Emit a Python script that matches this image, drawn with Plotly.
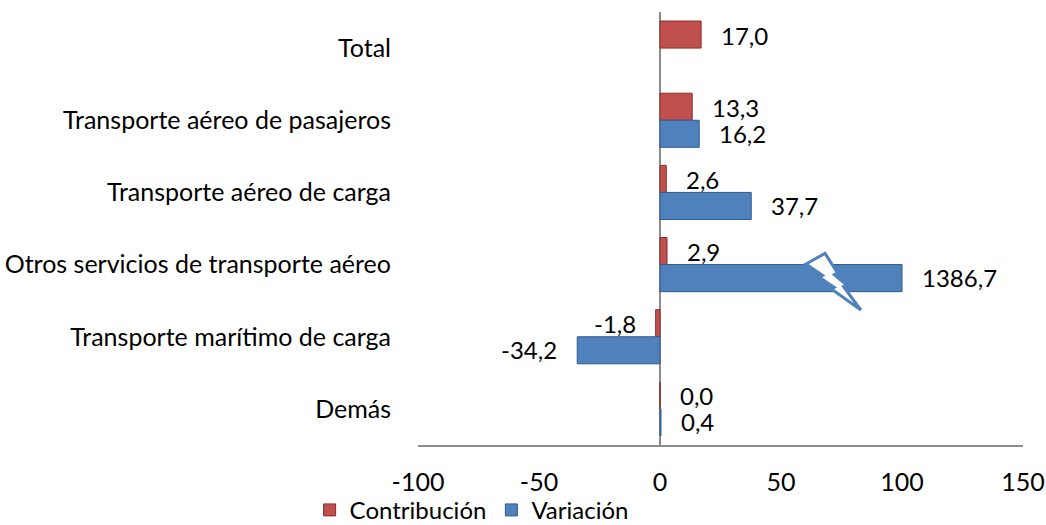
import plotly.graph_objects as go

categorias = ["Total", "Transporte aéreo de pasajeros", "Transporte aéreo de carga",
              "Otros servicios de transporte aéreo", "Transporte marítimo de carga", "Demás"]
contribucion = [17.0, 13.3, 2.6, 2.9, -1.8, 0.0]
variacion = [None, 16.2, 37.7, 1386.7, -34.2, 0.4]
x_ticks = [-100, -50, 0, 50, 100, 150]
x_max_visible = 100  # axis break: bars longer than this are cut at this value

RED = "#C0504D"
RED_DARK = "#8C2E2B"
BLUE = "#4F81BD"
BLUE_DARK = "#2E5A8E"
FONT = "Lato"
FS = 25

def fmt(v):
    return f"{v:.1f}".replace(".", ",")

var_display = [None if v is None else min(v, x_max_visible) for v in variacion]

fig = go.Figure()
fig.add_trace(go.Bar(name="Contribución", y=categorias, x=contribucion, orientation="h",
                     marker=dict(color=RED, line=dict(color=RED_DARK, width=1))))
fig.add_trace(go.Bar(name="Variación", y=categorias, x=var_display, orientation="h",
                     marker=dict(color=BLUE, line=dict(color=BLUE_DARK, width=1))))

annotations = []
for series, vals, shift in [(contribucion, contribucion, 13), (variacion, var_display, -13)]:
    for cat, real, disp in zip(categorias, series, vals):
        if real is None:
            continue
        neg = disp < 0
        annotations.append(dict(x=disp, y=cat, xref="x", yref="y", text=fmt(real),
                                showarrow=False, xanchor="right" if neg else "left",
                                xshift=-18 if neg else 18, yshift=shift,
                                font=dict(family=FONT, size=24, color="black")))

# lightning bolt marking the axis break on the long bar
bolt = [(68.2, 2.844), (60.3, 2.992), (67.2, 3.149), (65.8, 3.176), (72.0, 3.315),
        (70.8, 3.338), (83.0, 3.629), (75.8, 3.306), (76.9, 3.279), (72.0, 3.140),
        (73.3, 3.112)]
path = "M " + " L ".join(f"{x},{y}" for x, y in bolt) + " Z"

fig.update_layout(
    width=1046, height=525,
    margin=dict(l=418, r=23, t=12, b=80, autoexpand=False),
    paper_bgcolor="white", plot_bgcolor="white",
    barmode="group", bargap=0.25, bargroupgap=0,
    font=dict(family=FONT, size=FS, color="black"),
    annotations=annotations,
    shapes=[dict(type="path", path=path, xref="x", yref="y", fillcolor="white",
                 line=dict(color=BLUE, width=3), layer="above")],
    legend=dict(orientation="h", xref="container", yref="container",
                x=0.296, y=0.028, xanchor="left", yanchor="middle",
                font=dict(family=FONT, size=24), itemwidth=30, tracegroupgap=0,
                bgcolor="rgba(0,0,0,0)"),
    xaxis=dict(range=[-100, 150], tickvals=x_ticks, ticktext=[str(t) for t in x_ticks],
               showgrid=False, zeroline=True, zerolinecolor="#8C8C8C", zerolinewidth=2,
               showline=True, linecolor="#8C8C8C", linewidth=2, ticks="",
               ticklabelstandoff=14, tickfont=dict(family=FONT, size=FS), automargin=False),
    yaxis=dict(categoryorder="array", categoryarray=categorias, autorange="reversed",
               showgrid=False, zeroline=False, showline=False, ticks="",
               ticklabelstandoff=26, tickfont=dict(family=FONT, size=FS), automargin=False),
)

fig.write_html("out.html", config={"displayModeBar": False},
               post_script="document.body.style.margin='0';")
